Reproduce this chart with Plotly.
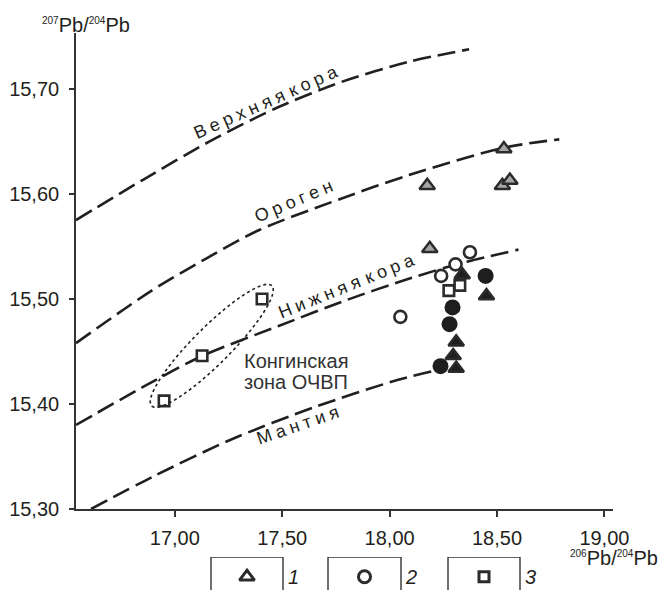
import numpy as np
import plotly.graph_objects as go

# ---------------- data ----------------
# growth curves 206Pb/204Pb vs 207Pb/204Pb
upper_x = [16.54, 16.85, 17.16, 17.47, 17.78, 18.09, 18.37]
upper_y = [15.5752, 15.6133, 15.6498, 15.6816, 15.707, 15.726, 15.7378]
orogen_x = [16.54, 16.885, 17.15, 17.393, 17.78, 18.09, 18.53, 18.79]
orogen_y = [15.458, 15.507, 15.539, 15.5657, 15.596, 15.618, 15.644, 15.652]
lower_x = [16.54, 16.85, 17.13, 17.48, 17.80, 18.10, 18.35, 18.60]
lower_y = [15.380, 15.416, 15.446, 15.474, 15.499, 15.520, 15.535, 15.547]
mantle_x = [16.61, 16.90, 17.26, 17.65, 18.04, 18.26]
mantle_y = [15.300, 15.331, 15.366, 15.397, 15.423, 15.434]

# group 1 (triangles): grey and black
tri_grey_x = [18.175, 18.532, 18.525, 18.560, 18.187]
tri_grey_y = [15.608, 15.643, 15.608, 15.613, 15.548]
tri_black_x = [18.338, 18.451, 18.310, 18.296, 18.310]
tri_black_y = [15.523, 15.503, 15.459, 15.446, 15.434]
# group 2 (circles): open and black
circ_open_x = [18.374, 18.307, 18.240, 18.050]
circ_open_y = [15.5445, 15.533, 15.522, 15.483]
circ_black_x = [18.447, 18.293, 18.279, 18.237]
circ_black_y = [15.522, 15.492, 15.476, 15.436]
# group 3 (squares)
sq_x = [18.276, 18.327, 17.406, 17.127, 16.950]
sq_y = [15.508, 15.513, 15.500, 15.446, 15.403]

x_ticks = [17.0, 17.5, 18.0, 18.5, 19.0]
y_ticks = [15.3, 15.4, 15.5, 15.6, 15.7]

curve_labels = ["Верхняя кора", "Ороген", "Нижняя кора", "Мантия"]
zone_label = ["Конгинская", "зона ОЧВП"]
legend_labels = ["1", "2", "3"]

# ---------------- layout constants ----------------
X_RANGE = [16.54, 19.04]
Y_RANGE = [15.30, 15.7533]
FONT = "Liberation Sans, Arial, Helvetica, sans-serif"
INK = "#231f20"
DARK = "#2b2b2b"
GREY_FILL = "#a6a6a6"
DASH = "18px,7px"

fig = go.Figure()

for cx, cy in [(upper_x, upper_y), (orogen_x, orogen_y), (lower_x, lower_y), (mantle_x, mantle_y)]:
    fig.add_trace(go.Scatter(x=cx, y=cy, mode="lines",
                             line=dict(color=INK, width=2.6, dash=DASH, shape="spline", smoothing=0.8),
                             hoverinfo="skip", showlegend=False))

def markers(x, y, symbol, size, fill, lw):
    fig.add_trace(go.Scatter(x=x, y=y, mode="markers", showlegend=False,
                             marker=dict(symbol=symbol, size=size, color=fill,
                                         line=dict(color=DARK, width=lw))))

markers(tri_grey_x, tri_grey_y, "triangle-up", 13.5, GREY_FILL, 2.5)
markers(tri_black_x, tri_black_y, "triangle-up", 13.5, "#1e1e1e", 2.5)
markers(circ_black_x, circ_black_y, "circle", 16, "#1e1e1e", 0)
markers(circ_open_x, circ_open_y, "circle", 12, "white", 2.6)
markers(sq_x, sq_y, "square", 10.5, "white", 2.6)

# dotted ellipse around the Kongin zone squares (pixel-based geometry)
px_per_x = 537 / (X_RANGE[1] - X_RANGE[0])
px_per_y = 476 / (Y_RANGE[1] - Y_RANGE[0])
ec_x, ec_y = 17.172, 15.4554
ea, eb, eth = 85.0, 18.5, np.deg2rad(45.0)
t = np.linspace(0, 2 * np.pi, 120)
dpx = ea * np.cos(t) * np.cos(eth) - eb * np.sin(t) * np.sin(eth)
dpy = ea * np.cos(t) * np.sin(eth) + eb * np.sin(t) * np.cos(eth)
ex = ec_x + dpx / px_per_x
ey = ec_y + dpy / px_per_y
path = "M " + " L ".join(f"{a:.5f},{b:.5f}" for a, b in zip(ex, ey)) + " Z"
fig.add_shape(type="path", path=path, xref="x", yref="y",
              line=dict(color=INK, width=1.6, dash="dot"))

# curve labels (letter-spaced, rotated)
LETTER_GAP = "\u2005"   # four-per-em space between letters
WORD_GAP = "\u2004"     # three-per-em space between words
def spaced(s):
    words = s.split(" ")
    return WORD_GAP.join(LETTER_GAP.join(w) for w in words)

label_pos = [(17.425, 15.6878, -24), (17.554, 15.5933, -23), (17.80, 15.5120, -22), (17.575, 15.380, -19)]
for txt, (lx, ly, ang) in zip(curve_labels, label_pos):
    fig.add_annotation(x=lx, y=ly, text=spaced(txt), textangle=ang, showarrow=False,
                       font=dict(family=FONT, size=18, color=INK), xanchor="center", yanchor="middle")

for txt, ly in zip(zone_label, [15.4412, 15.4205]):
    fig.add_annotation(x=17.313, y=ly, text=txt, showarrow=False, xanchor="left", yanchor="middle",
                       font=dict(family=FONT, size=20, color="#333333"))

# axis titles (paper = plot area from y=33 to y=590 px, x=76 to 613 px)
sup = lambda s: f"<sup><span style='font-size:10px'>{s}</span></sup>"
fig.add_annotation(xref="paper", yref="paper", x=(86 - 76) / 537, y=(590 - 25) / 557,
                   text=f"{sup('207')}Pb/{sup('204')}Pb", showarrow=False, xanchor="center", yanchor="middle",
                   font=dict(family=FONT, size=20, color=INK))
fig.add_annotation(xref="paper", yref="paper", x=(660 - 76) / 537, y=(590 - 558) / 557,
                   text=f"{sup('206')}Pb/{sup('204')}Pb", showarrow=False, xanchor="right", yanchor="middle",
                   font=dict(family=FONT, size=20, color=INK))

fig.update_layout(
    width=662, height=590,
    margin=dict(l=76, r=49, t=33, b=0, autoexpand=False),
    paper_bgcolor="white", plot_bgcolor="white",
    separators=", ",
    showlegend=False,
    xaxis=dict(range=X_RANGE, domain=[0, 1], anchor="y", tickvals=x_ticks, tickformat=".2f",
               automargin=False,
               showgrid=False, zeroline=False, showline=True, linecolor="#333333", linewidth=1.6,
               ticks="outside", ticklen=6, tickwidth=1.6, tickcolor="#333333",
               tickfont=dict(family=FONT, size=20, color=INK), ticklabelstandoff=4),
    yaxis=dict(range=Y_RANGE, domain=[81 / 557, 1], anchor="x", tickvals=y_ticks, tickformat=".2f",
               automargin=False,
               showgrid=False, zeroline=False, showline=True, linecolor="#333333", linewidth=1.6,
               ticks="outside", ticklen=5, tickwidth=1.6, tickcolor="#333333",
               tickfont=dict(family=FONT, size=20, color=INK), ticklabelstandoff=6),
    xaxis2=dict(range=[0, 1], domain=[0, 1], anchor="y2", visible=False, fixedrange=True, automargin=False),
    yaxis2=dict(range=[0, 1], domain=[0, 33 / 557], anchor="x2", visible=False, fixedrange=True, automargin=False),
)

# legend panel at the bottom
box_edges = [(211, 283), (328, 401), (448, 520)]
leg_symbols = ["triangle-up", "circle", "square"]
leg_sizes = [13, 12, 10]
label_px = [293, 411, 530]
for (b0, b1), sym, sz, lab, lp in zip(box_edges, leg_symbols, leg_sizes, legend_labels, label_px):
    f0, f1 = (b0 - 76) / 537, (b1 - 76) / 537
    fig.add_shape(type="path", xref="x2", yref="y2",
                  path=f"M {f0},0 L {f0},1 L {f1},1 L {f1},0",
                  line=dict(color="#333333", width=1.4))
    fig.add_trace(go.Scatter(x=[(f0 + f1) / 2], y=[0.4], xaxis="x2", yaxis="y2", mode="markers",
                             marker=dict(symbol=sym, size=sz, color="white", line=dict(color=DARK, width=3)),
                             showlegend=False, hoverinfo="skip", cliponaxis=False))
    fig.add_annotation(xref="x2", yref="y2", x=(lp - 76) / 537, y=0.4, text=f"<i>{lab}</i>",
                       showarrow=False, xanchor="center", yanchor="middle",
                       font=dict(family=FONT, size=20, color=INK))

fig.write_html("out.html", config={"displayModeBar": False},
               post_script=("document.documentElement.style.margin='0px';"
                            "document.body.style.margin='0px';"
                            "document.documentElement.style.overflow='hidden';"
                            "document.body.style.overflow='hidden';"))
